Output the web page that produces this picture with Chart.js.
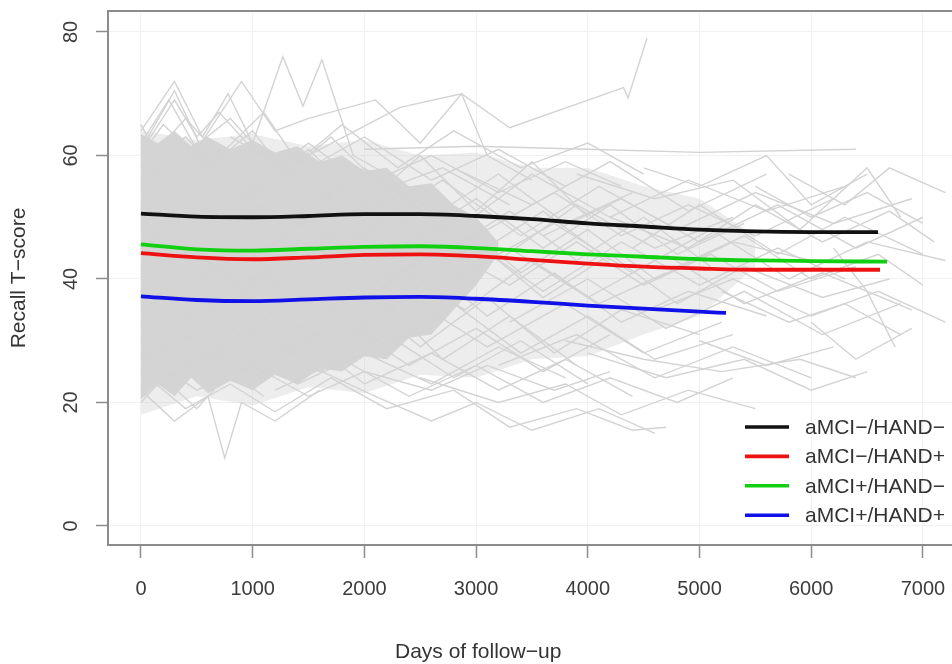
<!DOCTYPE html>
<html lang="en">
<head>
<meta charset="UTF-8">
<script src="https://cdn.jsdelivr.net/npm/chart.js"></script>
<title>Recall T-score</title>
<style>
    html, body { margin: 0; padding: 0; overflow: hidden; background: #fff; }
    .wrap { position: relative; width: 1000px; height: 664px; }
    .xtitle {
        position: absolute; left: 395px; top: 639px;
        font: 21px "Liberation Sans", Arial, sans-serif; line-height: 24px; color: #333;
        white-space: nowrap;
    }
</style>
</head>
<body>
<div class="wrap">
    <canvas id="grafico"></canvas>
    <div class="xtitle">Days of follow−up</div>
</div>
<script>
    // ticks
    const xTicks = [0, 1000, 2000, 3000, 4000, 5000, 6000, 7000];
    const yTicks = [0, 20, 40, 60, 80];

    const groupLabels = ['aMCI−/HAND−', 'aMCI−/HAND+', 'aMCI+/HAND−', 'aMCI+/HAND+'];
    const groupColors = ['#111111', '#ee1111', '#11d011', '#1010e8'];

    // smoothed group curves (days, T-score)
    const daysNegNeg = [0, 500, 1000, 1500, 2000, 2500, 3000, 3500, 4000, 4500, 5000, 5500, 6000, 6598];
    const scoreNegNeg = [50.6, 50.1, 50.0, 50.2, 50.5, 50.5, 50.2, 49.7, 49.0, 48.5, 48.0, 47.7, 47.6, 47.6];
    const daysNegPos = [0, 500, 1000, 1500, 2000, 2500, 3000, 3500, 4000, 4500, 5000, 5500, 6000, 6616];
    const scoreNegPos = [44.2, 43.5, 43.2, 43.5, 43.9, 44.0, 43.7, 43.1, 42.5, 42.0, 41.7, 41.5, 41.5, 41.5];
    const daysPosNeg = [0, 500, 1000, 1500, 2000, 2500, 3000, 3500, 4000, 4500, 5000, 5500, 6000, 6679];
    const scorePosNeg = [45.6, 44.8, 44.6, 44.9, 45.2, 45.3, 45.0, 44.5, 44.0, 43.6, 43.2, 43.0, 42.9, 42.8];
    const daysPosPos = [0, 500, 1000, 1500, 2000, 2500, 3000, 3500, 4000, 4500, 5000, 5237];
    const scorePosPos = [37.2, 36.6, 36.4, 36.7, 37.0, 37.1, 36.8, 36.3, 35.7, 35.2, 34.7, 34.5];

    // dense cloud of individual trajectories (outer and inner envelope)
    const cloudDays = [0, 500, 1000, 1500, 2000, 2500, 3000, 3500, 4000, 4500, 5000, 5500];
    const cloudTop = [64, 62.5, 63.5, 61.5, 62.5, 60, 60.5, 58, 58, 55, 53, 47];
    const cloudBottom = [18, 21, 19.5, 22.5, 21.5, 24.5, 24, 27, 27.5, 31, 34, 42];
    const coreDays = [0, 150, 300, 450, 600, 800, 1000, 1200, 1400, 1600, 1800, 2000, 2200, 2400, 2600, 2800, 3000, 3200];
    const coreTop = [63.5, 62, 64, 61.5, 63, 61, 62.5, 60.5, 61.5, 59, 60, 57.5, 58, 55, 55.5, 52, 50, 46];
    const coreBottom = [20.5, 23, 21, 24, 21.5, 23.5, 22, 24.5, 23, 25.5, 25, 27.5, 27, 30.5, 31, 35, 39, 44];

    // individual subjects (days, T-score)
    const spaghetti = [
        [[0, 64], [300, 72], [550, 63], [780, 70], [1000, 62], [1270, 76], [1450, 68], [1620, 75.5], [1900, 60], [2200, 57]],
        [[0, 62], [250, 69], [500, 61], [900, 72], [1200, 64], [1500, 66], [2100, 69], [2500, 62], [2870, 70], [3100, 60], [3500, 56]],
        [[1500, 60], [2320, 67.8], [2870, 70], [3300, 64.5], [4320, 71], [4360, 69.3], [4530, 79]],
        [[2000, 61], [3000, 61.5], [4000, 61], [5000, 60.5], [6400, 61]],
        [[0, 58], [400, 66], [700, 60], [1100, 67], [1400, 59], [1800, 65], [2300, 58], [2800, 64], [3400, 58], [4000, 62], [4500, 57]],
        [[0, 60], [200, 65], [600, 58], [1000, 64], [1300, 57], [1700, 63], [2100, 56], [2600, 60], [3200, 54], [3800, 59], [4300, 55]],
        [[4500, 58], [5000, 55], [5600, 60], [6000, 52], [6500, 57]],
        [[3900, 57], [4600, 53], [5300, 56], [5900, 48], [6500, 58], [6800, 50]],
        [[4200, 50], [4900, 45], [5500, 52], [6100, 46], [6700, 51], [7100, 46]],
        [[4800, 42], [5400, 47], [6000, 40], [6600, 44], [7000, 39]],
        [[5200, 38], [5800, 33], [6300, 36], [6800, 31]],
        [[6200, 45], [6500, 38], [6750, 29]],
        [[3800, 30], [4500, 27], [5200, 25], [5900, 27], [6400, 24]],
        [[5000, 30], [5600, 26], [6200, 29]],
        [[0, 22], [300, 17], [600, 21], [750, 11], [900, 20], [1200, 17], [1600, 22]],
        [[0, 25], [400, 19], [800, 23], [1200, 18.5], [1700, 24], [2200, 19], [2800, 22], [3300, 16], [3900, 19], [4400, 15.5], [4700, 16]],
        [[1500, 26], [2100, 21], [2600, 17], [3000, 20], [3500, 15.5], [4100, 19], [4600, 15]],
        [[2500, 24], [3200, 20], [3800, 23], [4300, 18], [4900, 22], [5500, 19]],
        [[0, 28], [500, 22], [1000, 26], [1500, 21], [2000, 25], [2600, 22], [3100, 26], [3700, 22], [4200, 25]],
        [[4000, 28], [4700, 24], [5400, 27], [6000, 22], [6500, 25]],
        [[0, 50], [600, 57], [1200, 48], [1800, 55], [2400, 46], [3000, 53], [3600, 45], [4200, 52], [4800, 44], [5400, 49]],
        [[0, 40], [500, 33], [1100, 41], [1700, 34], [2300, 42], [2900, 35], [3500, 43], [4100, 36], [4700, 41]],
        [[0, 35], [700, 42], [1300, 30], [1900, 38], [2500, 29], [3100, 37], [3700, 28], [4300, 35], [5000, 31]],
        [[0, 45], [500, 52], [1000, 43], [1600, 51], [2200, 44], [2800, 50], [3400, 41], [4000, 48], [4600, 40], [5300, 46], [6000, 43]],
        [[0, 55], [400, 48], [900, 57], [1400, 49], [2000, 58], [2600, 50], [3200, 57], [3800, 49], [4400, 54]],
        [[0, 30], [600, 36], [1100, 27], [1800, 33], [2400, 26], [3000, 32], [3600, 25], [4200, 31]],
        [[0, 38], [300, 45], [800, 36], [1300, 44], [1900, 35], [2500, 43], [3100, 34], [3700, 41], [4300, 33], [4900, 38], [5600, 34]],
        [[500, 60], [1000, 53], [1500, 61], [2000, 52], [2500, 60], [3000, 51], [3500, 59], [4000, 50]],
        [[200, 33], [700, 27], [1200, 35], [1700, 28], [2200, 36], [2700, 27], [3300, 34], [3900, 26]],
        [[0, 48], [800, 41], [1500, 50], [2200, 40], [2900, 47], [3600, 38], [4300, 46], [5000, 39], [5700, 45], [6300, 40]],
        [[0, 52], [400, 44], [900, 54], [1500, 45], [2100, 53], [2700, 44], [3300, 51], [3900, 43], [4500, 50], [5100, 42]],
        [[0, 42], [600, 49], [1200, 39], [1800, 48], [2400, 38], [3000, 46], [3600, 37], [4200, 44], [4800, 36], [5400, 42], [6100, 37], [6700, 40]],
        [[100, 57], [700, 50], [1300, 58], [1900, 50], [2500, 55], [3100, 48], [3700, 54], [4300, 47], [4900, 52], [5500, 47], [6200, 53]],
        [[0, 33], [400, 26], [1000, 32], [1600, 25], [2200, 31], [2800, 24], [3400, 30], [4000, 23]],
        [[300, 46], [900, 39], [1500, 46], [2100, 38], [2700, 45], [3300, 39], [3900, 46], [4500, 39], [5100, 44], [5700, 38], [6400, 42]],
        [[0, 65], [150, 60], [400, 63], [700, 57], [1000, 62], [1300, 56]],
        [[0, 20], [200, 24], [500, 19], [800, 25], [1100, 21]],
        [[1000, 36], [1700, 30], [2400, 37], [3100, 29], [3800, 36], [4500, 28], [5200, 33]],
        [[2000, 48], [2700, 56], [3400, 47], [4100, 55], [4800, 48], [5500, 54], [6200, 49], [6900, 53]],
        [[3000, 42], [3700, 49], [4400, 41], [5100, 48], [5800, 40], [6500, 46], [7200, 43]],
        [[4600, 35], [5300, 40], [6000, 34], [6600, 38], [7200, 33]],
        [[5500, 55], [6000, 50], [6500, 54], [7000, 49]],
        [[0, 27], [500, 31], [1000, 24], [1500, 30], [2000, 23], [2600, 28], [3200, 22], [3800, 27], [4400, 21]],
        [[800, 63], [1400, 57], [2000, 63], [2600, 56], [3200, 61], [3800, 55]],
        [[1200, 22], [1800, 27], [2400, 21], [3000, 26], [3600, 20], [4200, 24], [4800, 20], [5300, 24]],
        [[0, 61], [300, 70.5], [520, 62], [800, 66], [1100, 60]],
        [[50, 62], [300, 69], [500, 63], [700, 67], [1000, 61]],
        [[2200, 55], [2900, 49], [3500, 57], [4200, 50], [4900, 56], [5600, 51], [6300, 55]],
        [[2600, 38], [3300, 45], [4000, 37], [4700, 44], [5400, 36], [6100, 41], [6900, 35]],
        [[3300, 33], [4000, 40], [4700, 32], [5400, 38], [6100, 31], [6800, 36]],
        [[1800, 44], [2500, 51], [3200, 43], [3900, 52], [4600, 45], [5300, 50]],
        [[2800, 58], [3500, 52], [4200, 59], [4900, 51], [5600, 57]],
        [[3600, 47], [4300, 53], [5000, 46], [5700, 52], [6400, 45], [7000, 50]],
        [[1000, 30], [1600, 37], [2200, 29], [2800, 36], [3400, 28], [4000, 34], [4600, 27], [5300, 31]],
        [[3200, 26], [3900, 31], [4600, 24], [5300, 29], [6000, 24]],
        [[600, 46], [1200, 53], [1800, 45], [2400, 52], [3000, 44], [3600, 51], [4200, 43]],
        [[4400, 45], [5000, 52], [5700, 44], [6300, 50], [7000, 44]],
        [[0, 56], [500, 62], [1000, 55], [1500, 62], [2100, 54], [2700, 58], [3300, 52]],
        [[200, 24], [800, 29], [1400, 23], [2000, 28], [2600, 23], [3200, 29], [3800, 24]],
        [[5800, 57], [6300, 52], [6700, 58], [7200, 54]],
        [[6000, 33], [6400, 27], [6900, 32]]
    ];

    function pares(xs, ys) {
        return xs.map((x, i) => ({ x: x, y: ys[i] }));
    }

    let datasets = [];

    // group curves first so they sit on top
    const groupDays = [daysNegNeg, daysNegPos, daysPosNeg, daysPosPos];
    const groupScores = [scoreNegNeg, scoreNegPos, scorePosNeg, scorePosPos];
    for (let i = 0; i < groupLabels.length; i++) {
        datasets.push({
            label: groupLabels[i],
            data: pares(groupDays[i], groupScores[i]),
            borderColor: groupColors[i],
            borderWidth: 3.8,
            tension: 0.4,
            cubicInterpolationMode: 'monotone',
            pointRadius: 0,
            fill: false,
            order: 1
        });
    }

    for (let i = 0; i < spaghetti.length; i++) {
        datasets.push({
            label: '',
            data: spaghetti[i].map(p => ({ x: p[0], y: p[1] })),
            borderColor: '#d3d3d3',
            borderWidth: 1.4,
            tension: 0,
            pointRadius: 0,
            fill: false,
            order: 2
        });
    }

    datasets.push(
        { label: '', data: pares(cloudDays, cloudTop), borderWidth: 0, pointRadius: 0, fill: '+1', backgroundColor: 'rgba(211,211,211,0.4)', order: 3 },
        { label: '', data: pares(cloudDays, cloudBottom), borderWidth: 0, pointRadius: 0, fill: false, order: 3 },
        { label: '', data: pares(coreDays, coreTop), borderWidth: 0, pointRadius: 0, fill: '+1', backgroundColor: 'rgba(207,207,207,0.85)', order: 3 },
        { label: '', data: pares(coreDays, coreBottom), borderWidth: 0, pointRadius: 0, fill: false, order: 3 }
    );

    const fonte = '"Liberation Sans", Arial, sans-serif';

    // box round the plot region
    const moldura = {
        id: 'moldura',
        afterDatasetsDraw(chart) {
            const c = chart.ctx, a = chart.chartArea;
            c.save();
            c.strokeStyle = '#8c8c8c';
            c.lineWidth = 2;
            c.strokeRect(a.left, a.top, a.right - a.left, a.bottom - a.top);
            c.restore();
        }
    };

    // legend in the lower right corner, no box
    const legenda = {
        id: 'legenda',
        afterDraw(chart) {
            const c = chart.ctx, a = chart.chartArea;
            const x0 = a.left + 637;
            const y0 = a.bottom - 118;
            c.save();
            c.font = '21px ' + fonte;
            c.textBaseline = 'middle';
            c.textAlign = 'left';
            for (let i = 0; i < groupLabels.length; i++) {
                const y = y0 + i * 29.4;
                c.strokeStyle = groupColors[i];
                c.lineWidth = 3.6;
                c.beginPath();
                c.moveTo(x0, y);
                c.lineTo(x0 + 44, y);
                c.stroke();
                c.fillStyle = '#333';
                c.fillText(groupLabels[i], x0 + 60, y + 1);
            }
            c.restore();
        }
    };

    const config = {
        type: 'line',
        data: { datasets: datasets },
        options: {
            responsive: true,
            maintainAspectRatio: false,
            animation: false,
            devicePixelRatio: 1,
            events: [],
            layout: { padding: { top: 11, right: 2, left: 0, bottom: 0 } },
            plugins: {
                legend: { display: false },
                tooltip: { enabled: false }
            },
            scales: {
                x: {
                    type: 'linear',
                    min: -295,
                    max: 7672,
                    afterBuildTicks: (s) => { s.ticks = xTicks.map(v => ({ value: v })); },
                    afterFit: (s) => { s.height = 119; s.paddingLeft = 0; s.paddingRight = 0; },
                    border: { display: false },
                    grid: { color: '#f1f1f1', lineWidth: 1, tickColor: '#8c8c8c', tickWidth: 1.5, tickLength: 13 },
                    ticks: { color: '#3c3c3c', font: { family: fonte, size: 20 }, padding: 19, maxRotation: 0, autoSkip: false, callback: (v) => String(v) }
                },
                y: {
                    type: 'linear',
                    min: -3.08,
                    max: 83.4,
                    afterBuildTicks: (s) => { s.ticks = yTicks.map(v => ({ value: v })); },
                    afterFit: (s) => { s.width = 108; s.paddingTop = 0; s.paddingBottom = 0; },
                    border: { display: false },
                    grid: { color: '#f1f1f1', lineWidth: 1, tickColor: '#8c8c8c', tickWidth: 1.5, tickLength: 12 },
                    ticks: { color: '#3c3c3c', font: { family: fonte, size: 20 }, padding: 13, minRotation: 90, maxRotation: 90, crossAlign: 'center', autoSkip: false, callback: (v) => String(v) },
                    title: { display: true, text: 'Recall T−score', color: '#333', font: { family: fonte, size: 21 }, padding: { top: 7, bottom: 0 } }
                }
            }
        },
        plugins: [moldura, legenda]
    };

    let myChart = new Chart(document.getElementById('grafico'), config);
</script>
</body>
</html>
